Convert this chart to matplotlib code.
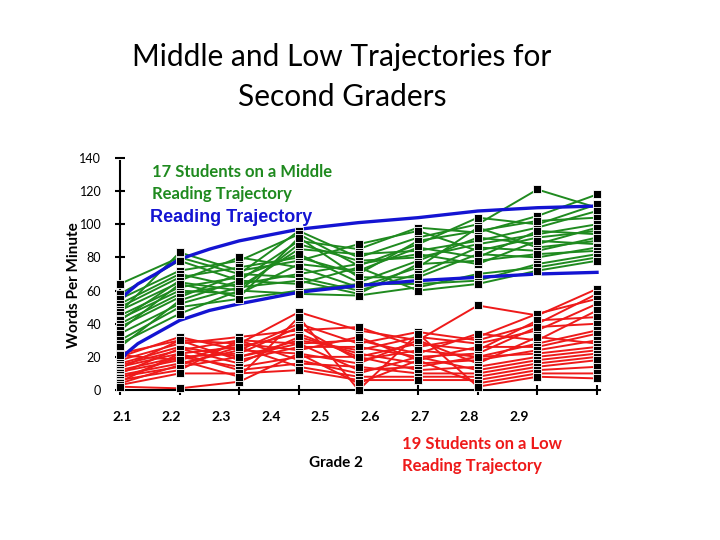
import numpy as np
import matplotlib
matplotlib.use("Agg")
import matplotlib.pyplot as plt
import matplotlib.transforms as mtransforms

plt.rcParams['font.family'] = ['Lato', 'DejaVu Sans']

# checkpoints during grade 2 (9 benchmark columns)
checkpoints = list(range(9))
tick_labels = ["2.1", "2.2", "2.3", "2.4", "2.5", "2.6", "2.7", "2.8", "2.9"]

# words per minute, middle trajectory students (17)
green_students = [
    [64, 80, 70, 96, 80, 92, 100, 121, 110],
    [58, 78, 66, 90, 85, 98, 95, 105, 118],
    [55, 72, 78, 94, 75, 88, 104, 100, 112],
    [52, 70, 62, 85, 82, 84, 90, 98, 108],
    [50, 68, 74, 80, 70, 90, 96, 102, 104],
    [48, 65, 60, 88, 78, 80, 88, 94, 100],
    [47, 83, 72, 78, 88, 96, 84, 92, 96],
    [45, 62, 68, 82, 65, 78, 92, 88, 98],
    [43, 60, 58, 76, 72, 86, 80, 96, 94],
    [42, 66, 80, 74, 62, 74, 98, 86, 90],
    [40, 58, 64, 70, 76, 82, 76, 90, 88],
    [38, 56, 70, 68, 60, 70, 86, 84, 92],
    [36, 64, 56, 92, 68, 68, 82, 80, 86],
    [34, 52, 62, 66, 58, 76, 78, 82, 84],
    [30, 50, 55, 60, 64, 64, 66, 76, 82],
    [28, 46, 60, 58, 57, 62, 70, 74, 80],
    [26, 54, 66, 64, 74, 60, 64, 72, 78],
]

# words per minute, low trajectory students (19)
red_students = [
    [22, 30, 28, 47, 36, 30, 51, 45, 61],
    [20, 32, 24, 40, 28, 35, 30, 40, 58],
    [18, 28, 32, 36, 38, 26, 32, 46, 55],
    [16, 26, 20, 30, 24, 32, 28, 36, 52],
    [15, 24, 30, 28, 30, 22, 34, 30, 48],
    [14, 22, 26, 34, 20, 28, 24, 42, 44],
    [13, 30, 18, 26, 26, 20, 22, 38, 40],
    [12, 20, 22, 38, 18, 24, 20, 28, 36],
    [11, 18, 28, 24, 32, 18, 26, 26, 34],
    [10, 25, 16, 32, 22, 16, 18, 24, 30],
    [9, 16, 24, 22, 16, 30, 16, 32, 28],
    [8, 14, 20, 28, 12, 14, 20, 22, 26],
    [7, 20, 14, 20, 20, 12, 14, 20, 24],
    [6, 12, 30, 18, 10, 20, 12, 18, 22],
    [5, 22, 12, 16, 14, 10, 10, 16, 20],
    [4, 15, 26, 14, 8, 8, 8, 14, 18],
    [3, 10, 10, 12, 6, 6, 6, 12, 14],
    [2, 1, 5, 22, 4, 18, 4, 10, 10],
    [21, 18, 8, 44, 0, 34, 2, 8, 7],
]

# blue trajectory band
band_x = [0, 0.03, 0.1, 0.3, 0.6, 1.0, 1.5, 2.0, 3.0, 4.0, 5.0, 6.0, 7.0, 8.0]
band_upper = [48, 55, 58, 64, 70, 79, 85, 90, 97, 101, 104, 108, 110, 111]
band_lower = [14, 18, 22, 28, 34, 42, 48, 52, 59, 63, 66, 68, 70, 71]

GREEN = "#1f8a1f"
RED = "#ee1a1a"
BLUE = "#1414d2"

fig = plt.figure(figsize=(7.2, 5.4), dpi=100)
ax = fig.add_axes([120 / 720, 1 - 390 / 540, 480 / 720, 232 / 540])

for row in green_students:
    ax.plot(checkpoints, row, color=GREEN, lw=1.4, zorder=2, clip_on=False)
for row in red_students:
    ax.plot(checkpoints, row, color=RED, lw=1.4, zorder=2, clip_on=False)

# markers on top
for row in green_students + red_students:
    ax.plot(checkpoints, row, ls="none", marker="s", ms=6, mfc="black",
            mec="white", mew=0.6, zorder=4, clip_on=False)

ax.plot(band_x, band_upper, color=BLUE, lw=2.4, zorder=3, clip_on=False)
ax.plot(band_x, band_lower, color=BLUE, lw=2.4, zorder=3, clip_on=False)

ax.set_xlim(0, 8.05)
ax.set_ylim(0, 140)
ax.set_yticks(range(0, 141, 20))
ax.set_xticks(checkpoints)
ax.set_xticklabels([])
for s in ("top", "right"):
    ax.spines[s].set_visible(False)
ax.spines["left"].set_linewidth(1.5)
ax.spines["bottom"].set_linewidth(1.5)
ax.spines["left"].set_bounds(0, 138)
ax.tick_params(axis="both", direction="inout", length=7, width=1.5, labelsize=9)
ax.tick_params(axis="y", pad=10)

# grade labels sit offset from the tick marks, as in the slide
trans = mtransforms.blended_transform_factory(ax.transData, ax.transAxes)
for i, lab in enumerate(tick_labels):
    ax.text(0.03 + i * 0.833, -0.118, lab, transform=trans, ha="center",
            va="center", fontsize=10, fontweight="bold")

ax.set_ylabel("Words Per Minute", fontsize=11, fontweight="bold")
ax.yaxis.set_label_coords(-0.082, 0.45)

fig.text(342 / 720, 1 - 77 / 540, "Middle and Low Trajectories for\nSecond Graders",
         ha="center", va="center", fontsize=21.5, linespacing=1.5)

fig.text(152 / 720, 1 - 183 / 540, "17 Students on a Middle\nReading Trajectory",
         ha="left", va="center", fontsize=12, fontweight="bold", color=GREEN,
         linespacing=1.4)
fig.text(150 / 720, 1 - 218 / 540, "Reading Trajectory", ha="left", va="center",
         fontsize=13, fontweight="bold", color=BLUE, family=["Liberation Sans"])
fig.text(402 / 720, 1 - 455 / 540, "19 Students on a Low\nReading Trajectory",
         ha="left", va="center", fontsize=12, fontweight="bold", color=RED,
         linespacing=1.4)
fig.text(336 / 720, 1 - 463 / 540, "Grade 2", ha="center", va="center",
         fontsize=11, fontweight="bold")

fig.savefig("out.png", dpi=100)
